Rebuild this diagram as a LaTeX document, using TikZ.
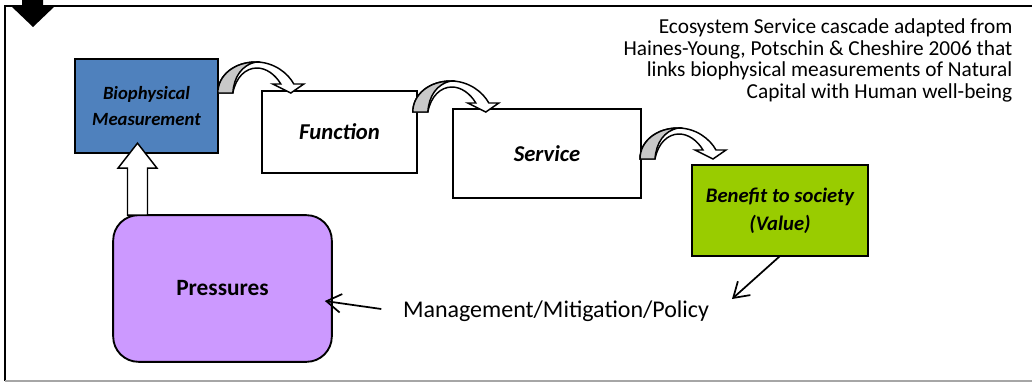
\documentclass[tikz,border=0pt]{standalone}
\usepackage{fontspec}
\setmainfont{Carlito}
\usetikzlibrary{arrows.meta}
\usetikzlibrary{positioning}
\usetikzlibrary{calc}

\definecolor{measureblue}{HTML}{4F81BD}
\definecolor{valuegreen}{HTML}{99CC00}
\definecolor{pressurepurple}{HTML}{CC99FF}
\definecolor{shadegray}{HTML}{C8C8C8}

\begin{document}
\begin{tikzpicture}
  [x=0.75pt, y=-0.75pt,
   stage/.style={shape=rectangle, draw=black, line width=1.4pt,
         inner sep=0pt, outer sep=0pt, align=center,
         font=\fontsize{17}{21}\selectfont\bfseries\itshape},
   blockarrow/.style={draw=black, line width=1.1pt, fill=white, line join=miter},
   pointer/.style={line width=1.3pt, -{Straight Barb[length=11pt, width=14pt]}},
   cascade arrow/.pic={
     \draw [blockarrow] (0,0) .. controls (0,-18) and (17,-31) .. (38,-31)
        .. controls (56,-31) and (70,-20) .. (76,-9) -- (86,-9) -- (73,0)
        -- (55,-9) -- (63,-9) .. controls (57,-19) and (48,-25) .. (39,-25)
        .. controls (28,-25) and (18,-16) .. (15,0) -- cycle;
     \draw [blockarrow, fill=shadegray] (0,0) .. controls (0,-18) and (17,-31) .. (38,-31)
        .. controls (24,-28) and (16,-16) .. (15,0) -- cycle;
   },
   lift arrow/.pic={
     \draw [blockarrow] (-10,0) -- (-10,-47) -- (-19.5,-47) -- (0,-72)
        -- (19.5,-47) -- (10,-47) -- (10,0) -- cycle;
   }
  ]

 \useasboundingbox (0,0) rectangle (1032,382);

 % frame round the figure
 \draw [line width=1.5pt] (5,381) -- (5,6) -- (1032,6);
 \draw [line width=1pt, black!35] (5,381) -- (1032,381);
 \fill (22,0) -- (43,0) -- (43,6) -- (55,6) -- (33,27) -- (11,6) -- (22,6) -- cycle;

 \path
   (146.5,106) node (bio)     [stage, fill=measureblue, minimum width=107pt, minimum height=70.5pt,
                               font=\fontsize{14}{20}\selectfont\bfseries\itshape]
                               {Biophysical\\Measurement}
   (339.5,132) node (func)    [stage, fill=white, minimum width=116pt, minimum height=61.5pt] {Function}
   (547,153.5) node (serv)    [stage, fill=white, minimum width=141pt, minimum height=66.75pt] {Service}
   (780,210.5) node (benefit) [stage, fill=valuegreen, minimum width=132pt, minimum height=68.25pt,
                               font=\fontsize{15.5}{21}\selectfont\bfseries\itshape]
                               {Benefit to society\\(Value)}
   (222.5,288.5) node (press) [stage, fill=pressurepurple, rounded corners=19pt,
                               minimum width=164pt, minimum height=110pt,
                               font=\fontsize{17.5}{21}\selectfont\bfseries] {Pressures}
   (556,311) node (policy)    [font=\fontsize{18}{21}\selectfont] {Management/Mitigation/Policy}
   (1017,14) node (caption)   [anchor=north east, align=right, font=\fontsize{16}{16.3}\selectfont]
        {Ecosystem Service cascade adapted from\\Haines-Young, Potschin \& Cheshire 2006 that\\
         links biophysical measurements of Natural\\Capital with Human well-being}
   ;

 % cascade from measurement to value
 \pic at ($(bio.north east)+(0,34)$)   {cascade arrow};
 \pic at ($(func.north east)+(-4,21)$) {cascade arrow};
 \pic at ($(serv.north east)+(-1,50)$) {cascade arrow};
 \pic at ($(bio.south |- press.north)+(-9,0)$) {lift arrow};

 \begin{scope}[pointer]
 \draw (benefit.south) -- ($(benefit.south)+(-48,43)$);
 \draw ($(policy.west)+(-17,-2)$) -- ($(press.east)+(-7,12.5)$);
 \end{scope}

\end{tikzpicture}
\end{document}
